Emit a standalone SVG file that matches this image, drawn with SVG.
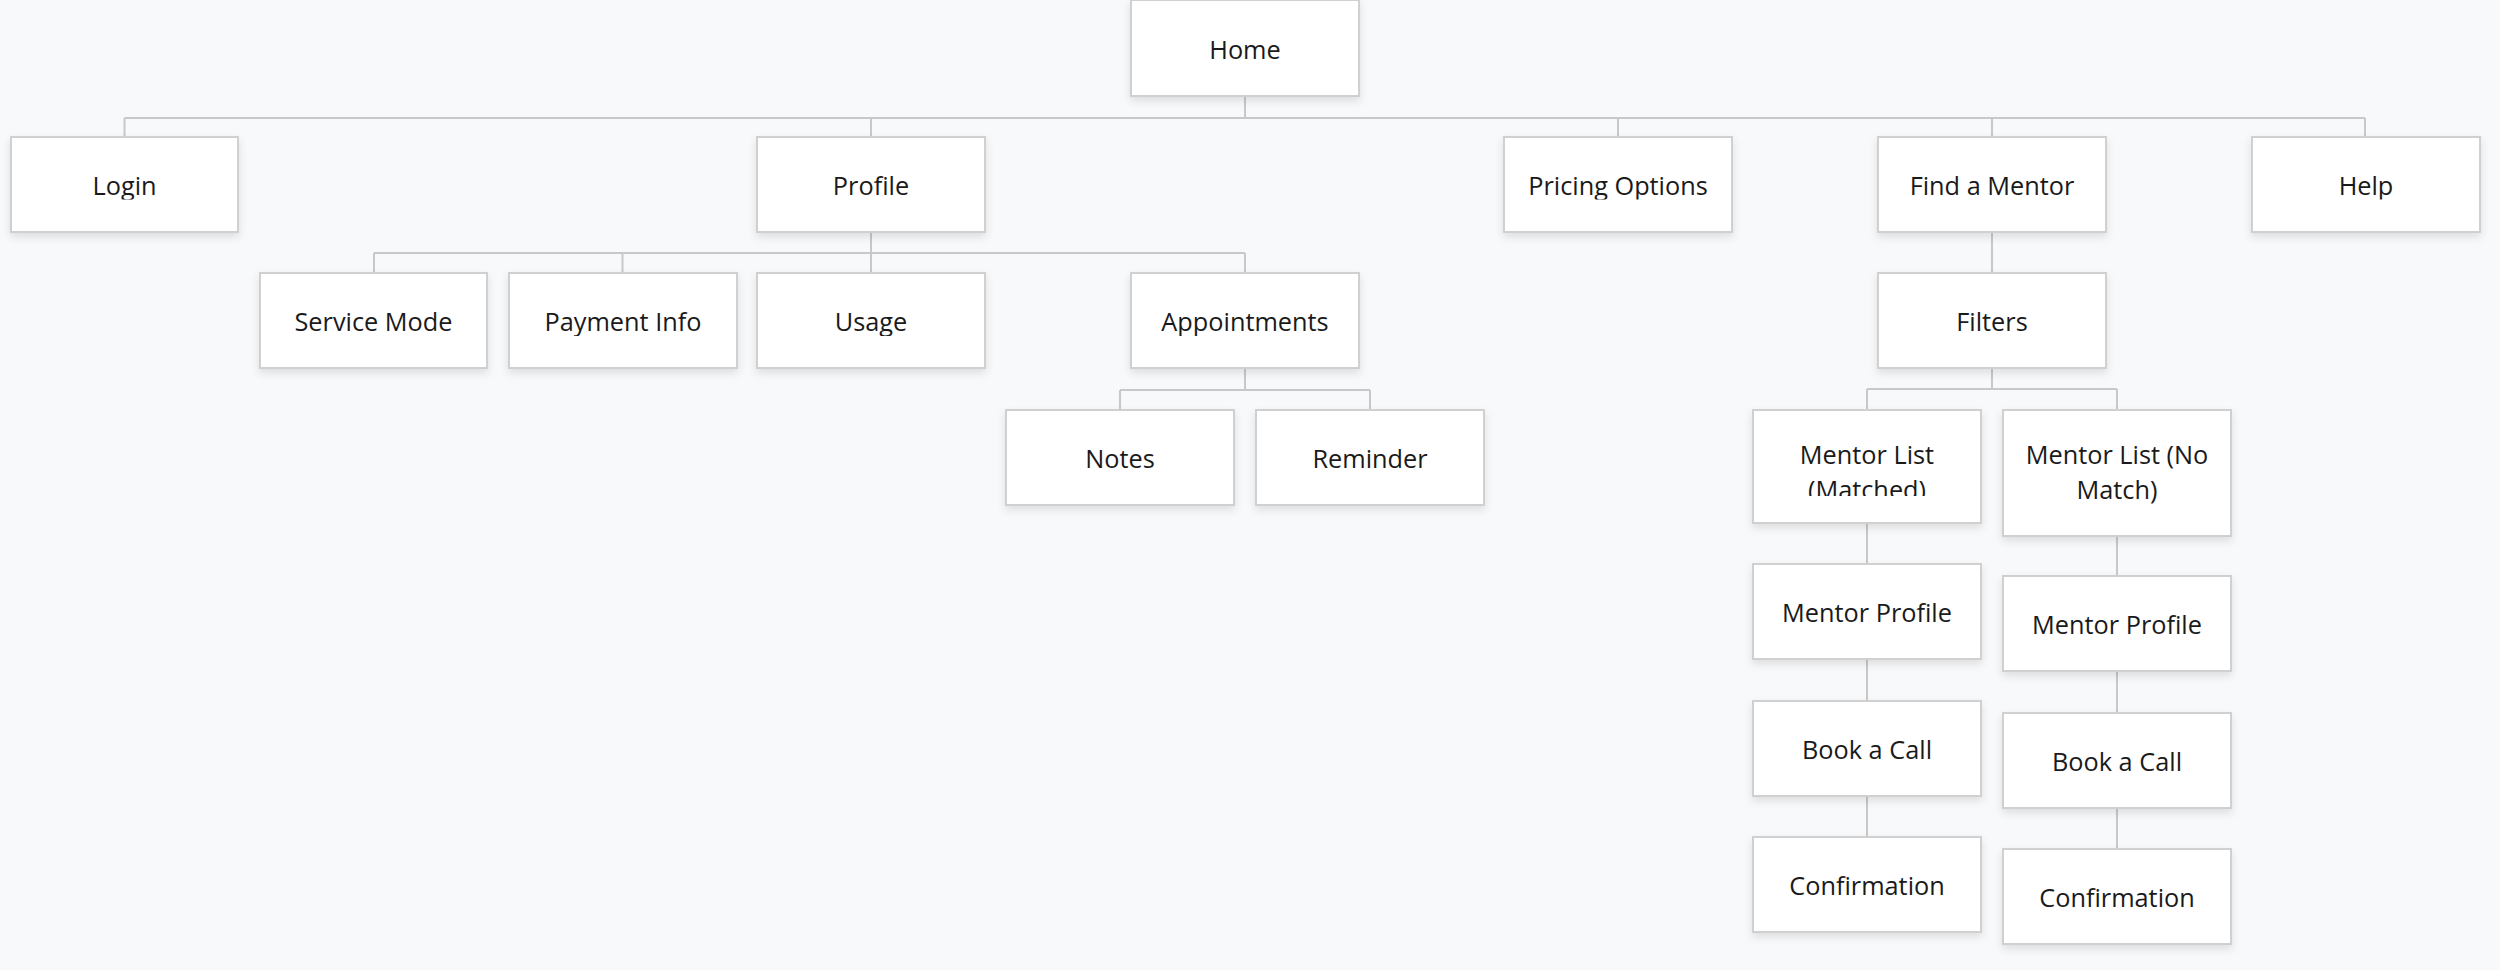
<svg xmlns="http://www.w3.org/2000/svg" width="2500" height="970" viewBox="0 0 2500 970">
<defs>
<filter id="sh" x="-10%" y="-20%" width="120%" height="150%">
<feDropShadow dx="0" dy="4" stdDeviation="4" flood-color="#000" flood-opacity="0.11"/>
</filter>
<clipPath id="c0"><rect x="0" y="0" width="2500" height="63"/></clipPath>
<clipPath id="c1"><rect x="0" y="0" width="2500" height="199.5"/></clipPath>
<clipPath id="c2"><rect x="0" y="0" width="2500" height="336"/></clipPath>
<clipPath id="cm"><rect x="0" y="0" width="2500" height="496"/></clipPath>
</defs>
<style>
.bg{fill:#f8f9fa}
.box{fill:#ffffff;stroke:#d0d0d0;stroke-width:2;filter:url(#sh)}
.t{font-family:"Open Sans","Noto Sans","Liberation Sans",sans-serif;font-size:25.3px;fill:#1a1a1a;text-anchor:middle}
.ln{fill:none;stroke:#c8c8c8;stroke-width:2}
</style>
<rect class="bg" x="0" y="0" width="2500" height="970"/>

<g id="connectors">
<path class="ln" d="M1245 96V118M124.5 118H2365M124.5 118V137M871 118V137M1618 118V137M1992 118V137M2365 118V137"/>
<path class="ln" d="M871 232V253M374 253H1245M374 253V273M622.5 253V273M871 253V273M1245 253V273"/>
<path class="ln" d="M1245 368V390M1120 390H1370M1120 390V410M1370 390V410"/>
<path class="ln" d="M1992 232V273M1992 368V389M1867 389H2117M1867 389V410M2117 389V410"/>
<path class="ln" d="M1867 523V564M1867 659V701M1867 796V837"/>
<path class="ln" d="M2117 536V576M2117 671V713M2117 808V849"/>
</g>

<g id="home"><rect class="box" x="1131" y="0" width="228" height="96"/><text class="t" x="1245" y="58.5" clip-path="url(#c0)">Home</text></g>

<g id="login"><rect class="box" x="11" y="137" width="227" height="95"/><text class="t" x="124.5" y="194.5" clip-path="url(#c1)">Login</text></g>
<g id="profile"><rect class="box" x="757" y="137" width="228" height="95"/><text class="t" x="871" y="194.5" clip-path="url(#c1)">Profile</text></g>
<g id="pricing"><rect class="box" x="1504" y="137" width="228" height="95"/><text class="t" x="1618" y="194.5" clip-path="url(#c1)">Pricing Options</text></g>
<g id="find-mentor"><rect class="box" x="1878" y="137" width="228" height="95"/><text class="t" x="1992" y="194.5" clip-path="url(#c1)">Find a Mentor</text></g>
<g id="help"><rect class="box" x="2252" y="137" width="228" height="95"/><text class="t" x="2366" y="194.5" clip-path="url(#c1)">Help</text></g>

<g id="service-mode"><rect class="box" x="260" y="273" width="227" height="95"/><text class="t" x="373.5" y="330.5" clip-path="url(#c2)">Service Mode</text></g>
<g id="payment-info"><rect class="box" x="509" y="273" width="228" height="95"/><text class="t" x="623" y="330.5" clip-path="url(#c2)">Payment Info</text></g>
<g id="usage"><rect class="box" x="757" y="273" width="228" height="95"/><text class="t" x="871" y="330.5" clip-path="url(#c2)">Usage</text></g>
<g id="appointments"><rect class="box" x="1131" y="273" width="228" height="95"/><text class="t" x="1245" y="330.5" clip-path="url(#c2)">Appointments</text></g>
<g id="filters"><rect class="box" x="1878" y="273" width="228" height="95"/><text class="t" x="1992" y="330.5" clip-path="url(#c2)">Filters</text></g>

<g id="notes"><rect class="box" x="1006" y="410" width="228" height="95"/><text class="t" x="1120" y="467.5">Notes</text></g>
<g id="reminder"><rect class="box" x="1256" y="410" width="228" height="95"/><text class="t" x="1370" y="467.5">Reminder</text></g>

<g id="mentor-list-matched"><rect class="box" x="1753" y="410" width="228" height="113"/><text class="t" clip-path="url(#cm)"><tspan x="1867" y="464">Mentor List</tspan><tspan x="1867" y="499">(Matched)</tspan></text></g>
<g id="mentor-list-nomatch"><rect class="box" x="2003" y="410" width="228" height="126"/><text class="t"><tspan x="2117" y="464">Mentor List (No</tspan><tspan x="2117" y="499">Match)</tspan></text></g>

<g id="mentor-profile-1"><rect class="box" x="1753" y="564" width="228" height="95"/><text class="t" x="1867" y="621.5">Mentor Profile</text></g>
<g id="book-call-1"><rect class="box" x="1753" y="701" width="228" height="95"/><text class="t" x="1867" y="758.5">Book a Call</text></g>
<g id="confirmation-1"><rect class="box" x="1753" y="837" width="228" height="95"/><text class="t" x="1867" y="894.5">Confirmation</text></g>

<g id="mentor-profile-2"><rect class="box" x="2003" y="576" width="228" height="95"/><text class="t" x="2117" y="633.5">Mentor Profile</text></g>
<g id="book-call-2"><rect class="box" x="2003" y="713" width="228" height="95"/><text class="t" x="2117" y="770.5">Book a Call</text></g>
<g id="confirmation-2"><rect class="box" x="2003" y="849" width="228" height="95"/><text class="t" x="2117" y="906.5">Confirmation</text></g>
</svg>
